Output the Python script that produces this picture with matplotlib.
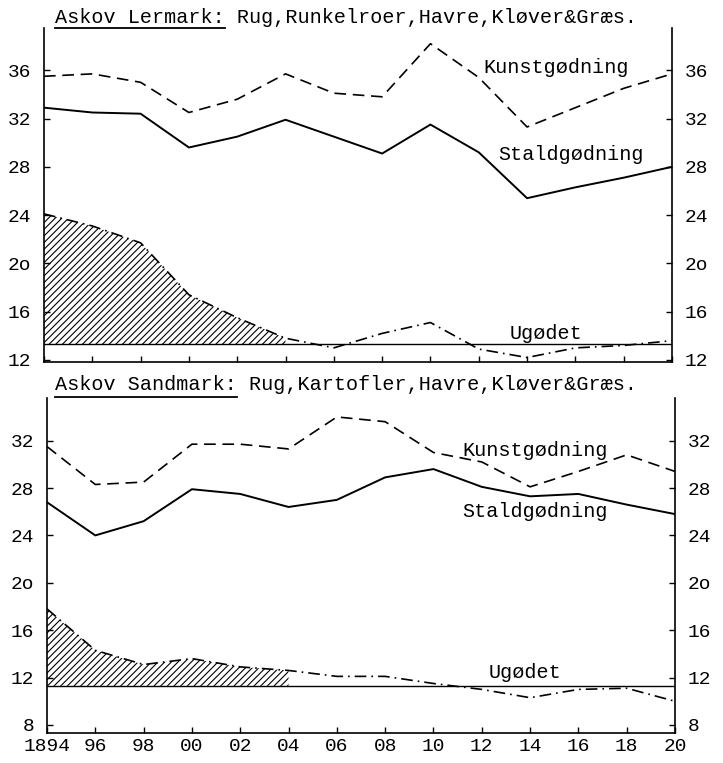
import matplotlib.pyplot as plt

# Udbytte, Askov forsøg 1894-1920
years = list(range(1894, 1921, 2))
year_labels = ['1894', '96', '98', '00', '02', '04', '06', '08', '10', '12', '14', '16', '18', '20']

ler_kunst = [35.5, 35.7, 35.0, 32.5, 33.6, 35.7, 34.1, 33.8, 38.2, 35.4, 31.3, 32.9, 34.5, 35.7]
ler_stald = [32.9, 32.5, 32.4, 29.6, 30.5, 31.9, 30.5, 29.1, 31.5, 29.2, 25.4, 26.3, 27.1, 28.0]
ler_ugodet = [24.1, 23.1, 21.7, 17.4, 15.5, 13.8, 13.0, 14.2, 15.1, 12.9, 12.2, 13.0, 13.2, 13.6]
ler_base = 13.3
ler_ticks = [12, 16, 20, 24, 28, 32, 36]
ler_ticklabels = ['12', '16', '2o', '24', '28', '32', '36']

sand_kunst = [31.5, 28.3, 28.5, 31.7, 31.7, 31.3, 34.0, 33.6, 31.0, 30.2, 28.1, 29.4, 30.8, 29.4]
sand_stald = [26.8, 24.0, 25.2, 27.9, 27.5, 26.4, 27.0, 28.9, 29.6, 28.1, 27.3, 27.5, 26.6, 25.8]
sand_ugodet = [17.8, 14.3, 13.1, 13.6, 12.9, 12.6, 12.1, 12.1, 11.5, 11.0, 10.3, 11.0, 11.1, 10.0]
sand_base = 11.3
sand_ticks = [8, 12, 16, 20, 24, 28, 32]
sand_ticklabels = ['8', '12', '16', '2o', '24', '28', '32']

n_hatch = 6  # skraveret til og med 1904

plt.rcParams['font.family'] = ['Liberation Mono', 'DejaVu Sans Mono']
plt.rcParams['hatch.linewidth'] = 0.8

W, H = 723, 763
fig = plt.figure(figsize=(W / 100, H / 100), dpi=100)

ax1 = fig.add_axes([44 / W, 1 - 362 / H, 628 / W, 334 / H])
ax2 = fig.add_axes([47 / W, 1 - 733 / H, 628 / W, 335 / H])

dash = (0, (7, 4))
dashdot = (0, (7, 3, 1, 3))


def panel(ax, kunst, stald, ugodet, base, ticks, ticklabels, ylim, title1, title2, ul_end, lab):
    ax.plot(years, kunst, color='black', lw=1.2, linestyle=dash)
    ax.plot(years, stald, color='black', lw=1.4)
    ax.plot(years, ugodet, color='black', lw=1.2, linestyle=dashdot)
    ax.axhline(base, color='black', lw=1.0)
    ax.fill_between(years[:n_hatch], ugodet[:n_hatch], base, facecolor='none',
                    edgecolor='black', hatch='/////', linewidth=0)

    ax.set_xlim(1894, 1920)
    ax.set_ylim(*ylim)
    ax.set_xticks(years)
    ax.set_yticks(ticks)
    ax.set_yticklabels(ticklabels)
    ax.spines['top'].set_visible(False)
    for s in ['left', 'right', 'bottom']:
        ax.spines[s].set_linewidth(1.2)
    ax.tick_params(axis='both', direction='in', length=4, width=1.0,
                   labelsize=14, right=True, labelright=True)
    ax.tick_params(axis='y', pad=9)

    ax.text(lab[0][0], lab[0][1], 'Kunstgødning', ha='center', va='center', fontsize=14.5)
    ax.text(lab[1][0], lab[1][1], 'Staldgødning', ha='center', va='center', fontsize=14.5)
    ax.text(lab[2][0], lab[2][1], 'Ugødet', ha='center', va='center', fontsize=14.5)

    ax.text(title1[0], title1[1], title2, transform=ax.transAxes, ha='left',
            va='center', fontsize=14.5)
    ax.plot([title1[0], ul_end], [title1[2], title1[2]], transform=ax.transAxes,
            color='black', lw=1.3, clip_on=False)


panel(ax1, ler_kunst, ler_stald, ler_ugodet, ler_base, ler_ticks, ler_ticklabels,
      (11.83, 39.5), (0.0175, 1.03, 1.0),
      'Askov Lermark: Rug,Runkelroer,Havre,Kløver&Græs.', 0.288,
      [(1915.2, 36.2), (1915.8, 29.0), (1914.8, 14.2)])
ax1.set_xticklabels([])

panel(ax2, sand_kunst, sand_stald, sand_ugodet, sand_base, sand_ticks, sand_ticklabels,
      (7.32, 35.6), (0.0127, 1.039, 1.003),
      'Askov Sandmark: Rug,Kartofler,Havre,Kløver&Græs.', 0.3025,
      [(1914.2, 31.2), (1914.2, 26.0), (1913.8, 12.4)])
ax2.set_xticklabels(year_labels)

fig.savefig('out.png', dpi=100)
